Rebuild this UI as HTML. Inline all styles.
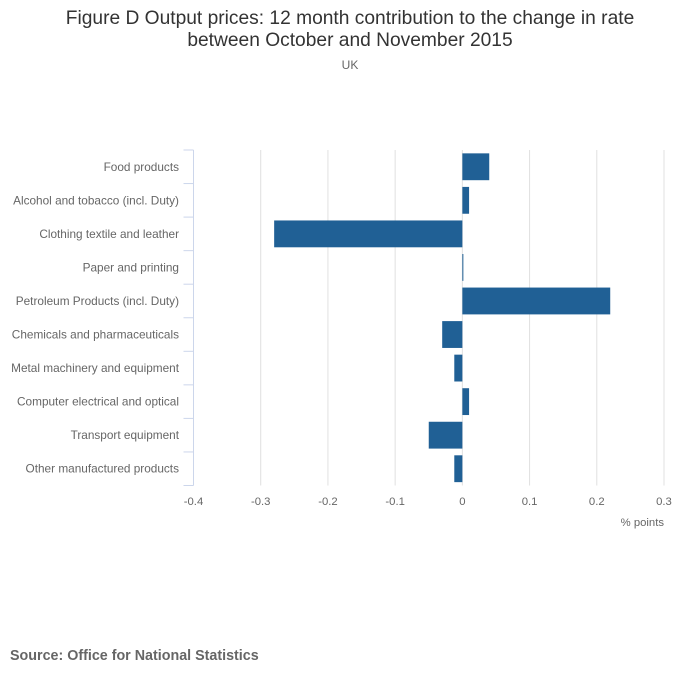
<!DOCTYPE html>
<html><head><meta charset="utf-8"><style>
body{margin:0;background:#fff;width:700px;height:682px;overflow:hidden;font-family:"Liberation Sans",sans-serif}
</style></head><body>
<svg width="700" height="682" style="font-family:'Liberation Sans',sans-serif">
<text x="350" y="24" text-anchor="middle" font-size="19.2" fill="#333">Figure D Output prices: 12 month contribution to the change in rate</text>
<text x="350" y="46" text-anchor="middle" font-size="19.2" fill="#333">between October and November 2015</text>
<text x="350" y="69" text-anchor="middle" font-size="12" fill="#666">UK</text>
<g id="grid"></g><g id="bars"></g><g id="yaxis"></g><g id="xlabels"></g>
<text x="664" y="526" text-anchor="end" font-size="11.3" fill="#666">% points</text>
<text x="10" y="660" font-size="14.3" font-weight="bold" fill="#666">Source: Office for National Statistics</text>
</svg>
<script>
const categories=["Food products","Alcohol and tobacco (incl. Duty)","Clothing textile and leather","Paper and printing","Petroleum Products (incl. Duty)","Chemicals and pharmaceuticals","Metal machinery and equipment","Computer electrical and optical","Transport equipment","Other manufactured products"];
const values=[0.04,0.01,-0.28,0.001,0.22,-0.03,-0.012,0.01,-0.05,-0.012];
const ticks=[-0.4,-0.3,-0.2,-0.1,0,0.1,0.2,0.3];
const tickLabels=["-0.4","-0.3","-0.2","-0.1","0","0.1","0.2","0.3"];
const NS="http://www.w3.org/2000/svg";
const X0=193.5,X1=664,Y0=150,Y1=485.5,xmin=-0.4,xmax=0.3;
const xs=v=>X0+(v-xmin)/(xmax-xmin)*(X1-X0);
const band=(Y1-Y0)/categories.length;
function mk(t,a,p){const e=document.createElementNS(NS,t);for(const k in a)e.setAttribute(k,a[k]);p.appendChild(e);return e;}
const g=document.getElementById('grid'),b=document.getElementById('bars'),ya=document.getElementById('yaxis'),xl=document.getElementById('xlabels');
ticks.forEach((t,i)=>{
 if(i>0){const l=mk('line',{x1:xs(t),x2:xs(t),y1:Y0,y2:Y1,stroke:'#e0e0e0','stroke-width':1},g);
 
 }
 const tx=mk('text',{x:xs(t),y:505,'text-anchor':'middle','font-size':11.3,fill:'#666'},xl);
 tx.textContent=tickLabels[i];
 
 
});
const ax=mk('line',{x1:X0,x2:X0,y1:Y0,y2:Y1,stroke:'#ccd6eb','stroke-width':1},ya);


for(let i=0;i<=categories.length;i++){
 const y=Y0+i*band;
 const tk=mk('line',{x1:X0-10,x2:X0,y1:y,y2:y,stroke:'#ccd6eb','stroke-width':1},ya);
 
 
}
categories.forEach((c,i)=>{
 const cy=Y0+(i+0.5)*band;
 const t=mk('text',{x:179,y:cy+4,'text-anchor':'end','font-size':11.8,fill:'#666'},ya);
 t.textContent=c;
 
 
 const v=values[i],a=xs(Math.min(0,v)),w=Math.max(1,Math.abs(xs(v)-xs(0)));
 const r=mk('rect',{x:a,y:cy-band*0.4,width:w,height:band*0.8,fill:'#206095'},b);
 
 
});
</script>
</body></html>
